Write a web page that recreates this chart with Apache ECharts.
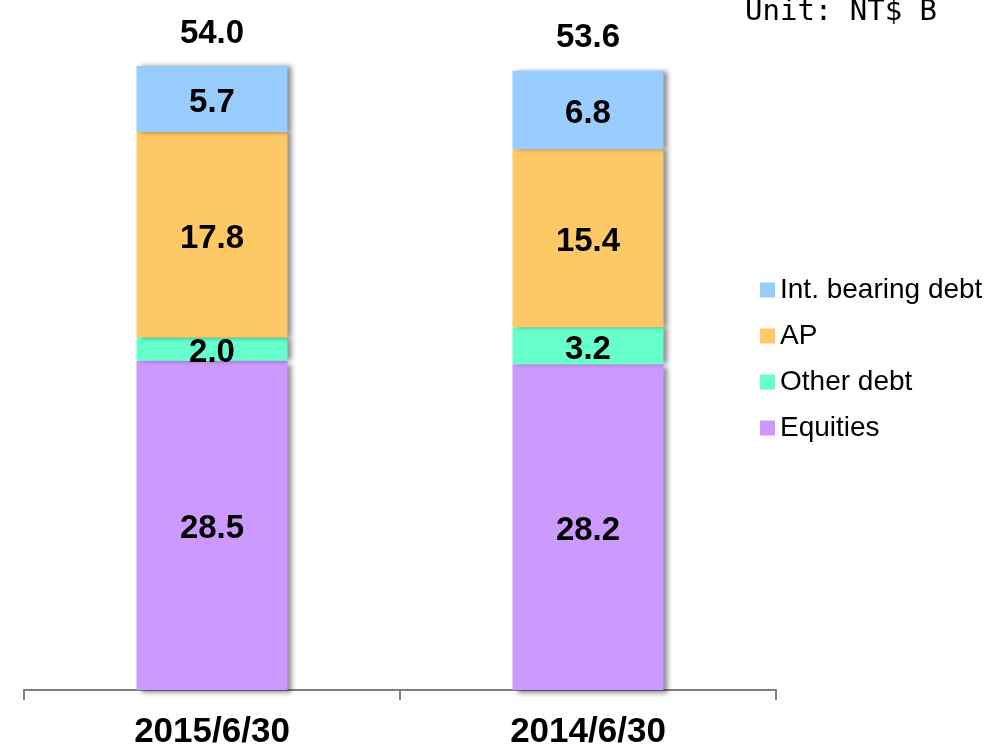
<!DOCTYPE html>
<html>
<head>
<meta charset="utf-8">
<script src="https://cdn.jsdelivr.net/npm/echarts@6/dist/echarts.min.js"></script>
<style>
  html, body { margin: 0; padding: 0; background: #fff; }
  #chart { width: 1006px; height: 748px; }
</style>
</head>
<body>
<div id="chart"></div>
<script>
// data
var categories = ['2015/6/30', '2014/6/30'];
var seriesNames = ['Equities', 'Other debt', 'AP', 'Int. bearing debt'];
var equities = [28.5, 28.2];
var otherDebt = [2.0, 3.2];
var ap = [17.8, 15.4];
var intDebt = [5.7, 6.8];
var totals = [54.0, 53.6];
var colors = ['#CC99FF', '#66FFCC', '#FDC966', '#99CCFF'];

var valueLists = [equities, otherDebt, ap, intDebt];

var segLabel = {
    show: true,
    position: 'inside',
    offset: [0, 4],
    color: '#000',
    fontFamily: 'Liberation Sans, Arial, sans-serif',
    fontWeight: 'bold',
    fontSize: 33,
    formatter: function (p) { return p.value.toFixed(1); }
};

var series = valueLists.map(function (vals, i) {
    return {
        name: seriesNames[i],
        type: 'bar',
        stack: 'all',
        barWidth: 151,
        data: vals,
        itemStyle: {
            color: colors[i],
            shadowColor: 'rgba(0,0,0,0.45)',
            shadowBlur: 5,
            shadowOffsetX: 4,
            shadowOffsetY: i === 0 ? 3 : 0
        },
        label: segLabel,
        emphasis: { disabled: true }
    };
});

// invisible bar carrying the total labels on top
series.push({
    name: 'Total',
    type: 'bar',
    barWidth: 151,
    barGap: '-100%',
    data: totals,
    z: 1,
    itemStyle: { color: 'rgba(0,0,0,0)' },
    label: {
        show: true,
        position: 'top',
        distance: 16,
        color: '#000',
        fontFamily: 'Liberation Sans, Arial, sans-serif',
        fontWeight: 'bold',
        fontSize: 33,
        formatter: function (p) { return p.value.toFixed(1); }
    },
    emphasis: { disabled: true },
    silent: true
});

var chart = echarts.init(document.getElementById('chart'));
chart.setOption({
    animation: false,
    backgroundColor: '#fff',
    grid: { left: 24, right: 230, top: 43, bottom: 58, outerBoundsMode: 'none', containLabel: false },
    legend: {
        orient: 'vertical',
        left: 755,
        top: 271,
        data: seriesNames.slice().reverse(),
        icon: 'rect',
        itemWidth: 15,
        itemHeight: 15,
        itemGap: 18,
        textStyle: {
            color: '#000',
            fontFamily: 'Liberation Sans, Arial, sans-serif',
            fontSize: 28
        }
    },
    xAxis: {
        type: 'category',
        data: categories,
        axisLine: { lineStyle: { color: '#808080', width: 2 } },
        axisTick: { show: true, length: 10, lineStyle: { color: '#808080', width: 2 } },
        axisLabel: {
            color: '#000',
            fontFamily: 'Liberation Sans, Arial, sans-serif',
            fontWeight: 'bold',
            fontSize: 35,
            margin: 25
        }
    },
    yAxis: {
        type: 'value',
        min: 0,
        max: 56,
        show: false,
        splitLine: { show: false }
    },
    graphic: [{
        type: 'text',
        left: 745,
        top: -2,
        style: {
            text: 'Unit: NT$ B',
            fill: '#000',
            font: '29px "DejaVu Sans Mono", monospace'
        }
    }],
    series: series
});
</script>
</body>
</html>
